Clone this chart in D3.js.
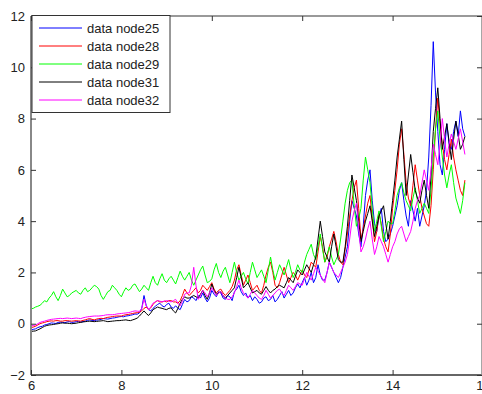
<!DOCTYPE html>
<html><head><meta charset="utf-8">
<script src="https://cdn.jsdelivr.net/npm/d3@7/dist/d3.min.js"></script>
<style>html,body{margin:0;padding:0;background:#fff;overflow:hidden}svg{display:block}</style>
</head><body><svg id="c" width="482" height="394"></svg>
<script>
const xStart = 6.0, xStep = 0.05;
const seriesNames = ["data node25","data node28","data node29","data node31","data node32"];
const xTicks = [6,8,10,12,14,16];
const yTicks = [-2,0,2,4,6,8,10,12];

const node25 = [
-0.25,-0.22,-0.2,-0.15,-0.12,-0.1,-0.05,-0.03,0.0,0.03,0.02,0.01,0.05,0.06,0.05,0.04,0.07,0.08,0.05,0.06,
0.08,0.09,0.07,0.08,0.1,0.13,0.15,0.13,0.12,0.14,0.15,0.17,0.2,0.19,0.18,0.2,0.22,0.23,0.25,0.27,
0.28,0.27,0.3,0.31,0.33,0.35,0.38,0.37,0.42,0.6,1.1,0.7,0.55,0.5,0.6,0.68,0.75,0.8,0.7,0.65,
0.75,0.8,0.65,0.6,0.7,0.6,0.55,0.75,0.95,0.85,0.9,1.05,1.0,0.9,1.1,1.0,1.2,1.0,0.85,1.0,
1.3,1.15,1.05,1.25,1.2,1.0,0.95,1.1,1.05,0.9,1.25,1.35,1.5,1.25,1.1,1.2,1.0,1.1,0.9,1.05,
0.95,0.8,0.85,1.0,1.05,0.9,0.95,1.1,0.85,0.95,1.1,1.25,1.0,1.15,1.3,1.1,1.2,1.4,1.55,1.4,
1.6,1.8,1.5,1.7,2.0,1.6,1.8,2.3,1.9,1.7,1.7,2.0,2.4,2.2,2.0,1.8,1.6,1.8,2.2,2.6,
3.0,4.0,4.8,4.5,4.2,3.5,3.0,3.8,5.0,5.6,6.0,4.8,3.9,3.6,4.2,4.5,3.6,3.2,3.3,3.5,
3.8,4.2,4.6,5.2,5.5,4.8,4.2,3.8,4.8,4.4,4.0,4.5,3.8,4.2,4.6,5.2,6.5,8.5,11.0,9.0,
7.5,6.2,5.8,6.8,7.8,7.0,6.8,7.5,7.9,7.3,8.3,7.6,7.3];
const node28 = [
-0.15,-0.13,-0.1,-0.05,0.0,0.03,0.05,0.08,0.1,0.11,0.1,0.12,0.12,0.1,0.1,0.12,0.12,0.11,0.1,0.11,
0.12,0.11,0.1,0.13,0.15,0.18,0.2,0.17,0.15,0.18,0.2,0.21,0.2,0.23,0.25,0.26,0.28,0.29,0.3,0.3,
0.3,0.33,0.35,0.36,0.38,0.4,0.42,0.43,0.45,0.5,0.6,0.65,0.55,0.62,0.75,0.85,0.9,0.85,0.85,0.88,
0.85,0.9,0.9,0.85,0.85,0.8,0.9,1.1,1.35,1.2,1.1,1.2,1.3,1.4,1.2,1.3,1.5,1.4,1.3,1.45,
1.6,1.35,1.2,1.3,1.35,1.2,1.1,1.2,1.3,1.45,1.7,2.1,2.3,1.9,1.5,1.7,1.9,1.6,1.3,1.4,
1.5,1.3,1.2,1.5,1.9,2.2,2.4,2.0,1.5,1.4,1.6,1.9,2.2,1.9,1.6,1.8,2.0,1.9,1.7,1.9,
2.1,1.9,1.8,2.1,2.4,2.3,2.2,2.8,3.4,3.0,2.4,2.6,3.0,3.3,3.6,3.2,2.7,2.4,2.3,2.9,
3.5,4.2,4.8,5.3,5.6,4.5,3.3,3.7,4.2,4.7,5.0,4.1,3.2,3.6,4.3,3.9,3.3,3.0,2.8,3.5,
4.5,5.2,6.0,7.0,7.6,6.6,5.5,4.9,4.6,5.4,6.2,5.6,5.0,4.5,4.2,3.9,3.8,4.6,6.0,7.6,
8.8,7.8,7.0,6.4,6.0,6.6,7.2,6.5,6.0,5.6,5.2,5.0,5.6];
const node29 = [
0.58,0.6,0.65,0.68,0.72,0.8,0.9,0.85,1.0,1.1,1.25,1.05,0.9,1.1,1.35,1.2,1.05,1.1,1.2,1.25,
1.3,1.2,1.15,1.3,1.4,1.25,1.3,1.4,1.5,1.45,1.35,1.1,0.95,1.1,1.25,1.3,1.5,1.4,1.3,1.15,
1.05,1.25,1.4,1.3,1.35,1.5,1.55,1.4,1.25,1.35,1.5,1.4,1.3,1.6,1.85,1.6,1.5,1.75,1.95,1.7,
1.6,1.75,1.85,1.7,1.55,1.8,2.05,1.85,1.7,1.85,2.0,1.7,1.5,1.7,1.9,2.1,2.25,1.9,1.6,1.65,
1.75,2.1,2.35,2.0,1.8,2.05,2.2,1.9,1.6,2.0,2.4,2.0,1.7,1.85,2.0,1.75,1.55,2.0,2.4,2.1,
1.8,1.95,2.1,1.85,1.6,2.1,2.6,2.1,1.7,2.0,2.3,2.1,1.9,2.2,2.5,2.1,1.8,2.0,2.3,2.1,
2.0,2.4,2.7,2.9,3.1,2.7,2.5,3.0,3.5,2.9,2.4,2.7,3.0,2.6,2.3,2.5,2.7,3.3,4.0,4.7,
5.2,5.5,5.6,4.6,3.8,4.1,4.5,5.6,6.5,6.0,5.5,4.5,3.6,4.0,4.4,3.8,3.2,3.6,4.0,3.9,
3.9,4.4,5.0,5.3,5.5,5.1,4.8,4.6,4.4,4.9,5.3,4.8,4.3,4.5,4.7,4.5,4.3,5.2,6.5,7.6,
8.3,7.2,6.5,5.8,5.3,5.8,6.2,5.5,4.9,4.6,4.3,4.8,5.5];
const node31 = [
-0.3,-0.29,-0.28,-0.24,-0.2,-0.15,-0.1,-0.07,-0.05,-0.04,-0.03,-0.01,0.0,0.02,0.03,0.02,0.02,0.01,0.0,0.01,
0.02,0.04,0.05,0.07,0.08,0.09,0.1,0.09,0.08,0.09,0.1,0.11,0.12,0.1,0.08,0.09,0.1,0.11,0.12,0.12,
0.13,0.14,0.15,0.13,0.12,0.15,0.18,0.22,0.3,0.4,0.5,0.4,0.32,0.42,0.55,0.6,0.65,0.62,0.6,0.57,
0.55,0.6,0.62,0.5,0.42,0.6,0.8,0.95,1.05,1.0,1.0,1.05,1.1,1.05,1.0,1.15,1.3,1.1,0.95,1.2,
1.55,1.3,1.15,1.2,1.25,1.1,1.0,1.1,1.2,1.3,1.4,1.8,2.2,1.8,1.4,1.5,1.6,1.4,1.2,1.25,
1.3,1.2,1.15,1.3,1.45,1.3,1.2,1.3,1.35,1.45,1.5,1.45,1.4,1.6,1.8,1.7,1.6,1.85,2.1,2.0,
1.9,2.1,2.3,2.15,2.0,2.3,2.6,3.3,4.0,3.4,2.8,2.6,2.4,3.0,3.5,3.0,2.5,2.4,2.4,3.0,
3.8,4.8,5.8,5.3,4.8,4.0,3.2,3.6,4.0,4.3,4.6,4.0,3.4,3.8,4.2,4.4,4.6,3.9,3.3,4.0,
4.8,5.6,6.5,7.2,7.9,6.4,5.0,5.8,6.6,5.9,5.2,4.9,4.7,5.2,5.6,5.0,4.5,5.8,7.5,8.4,
9.2,8.0,6.8,7.3,7.8,7.1,6.4,7.2,7.9,7.4,6.8,7.0,7.3];
const node32 = [
-0.08,-0.07,-0.05,0.0,0.05,0.08,0.1,0.13,0.15,0.17,0.18,0.19,0.2,0.21,0.2,0.21,0.22,0.21,0.2,0.21,
0.22,0.21,0.2,0.23,0.25,0.27,0.28,0.29,0.3,0.3,0.3,0.31,0.32,0.34,0.35,0.35,0.35,0.36,0.38,0.39,
0.4,0.41,0.42,0.43,0.45,0.48,0.5,0.49,0.48,0.6,0.95,0.7,0.55,0.65,0.8,0.85,0.9,0.88,0.85,0.88,
0.9,0.88,0.85,0.9,0.95,0.8,0.7,0.9,1.15,1.2,1.2,1.5,2.2,1.5,0.95,1.1,1.3,1.2,1.05,1.2,
1.4,1.25,1.1,1.2,1.25,1.1,1.0,0.95,0.95,1.05,1.2,1.45,1.7,1.4,1.2,1.1,1.0,1.15,1.3,1.2,
1.1,1.0,0.95,1.1,1.3,1.15,1.0,1.1,1.2,1.3,1.35,1.2,1.1,1.3,1.5,1.4,1.3,1.45,1.6,1.55,
1.5,1.75,2.0,1.85,1.7,1.95,2.2,2.05,1.9,1.75,1.6,2.0,2.4,2.2,2.0,1.9,1.8,2.0,2.2,2.4,
2.7,3.3,4.0,4.4,4.7,3.7,2.8,3.0,3.3,3.7,4.0,3.3,2.7,3.0,3.4,3.2,3.0,2.7,2.4,2.7,
3.0,3.2,3.5,3.7,3.8,3.5,3.2,3.4,3.6,4.0,4.5,4.8,5.0,5.5,6.0,5.6,5.2,6.0,7.0,6.6,
6.2,7.0,8.0,7.2,6.5,7.0,7.4,7.1,6.8,7.2,7.6,7.1,6.6];

const seriesValues = [node25,node28,node29,node31,node32];
const colors = ["#0000ff","#ff0000","#00ff00","#000000","#ff00ff"];

const L = 31, R = 483, T = 16, B = 375;
const svg = d3.select("#c");
const x = d3.scaleLinear().domain([6,16]).range([L,R]);
const y = d3.scaleLinear().domain([-2,12]).range([B,T]);

svg.append("defs").append("clipPath").attr("id","clip")
  .append("rect").attr("x",L).attr("y",T).attr("width",R-L).attr("height",B-T);

const font = "'Liberation Sans', Arial, sans-serif";

const line = d3.line().x((d,i)=>x(xStart + i*xStep)).y(d=>y(d));
const g = svg.append("g").attr("clip-path","url(#clip)");
seriesValues.forEach((vals,k)=>{
  g.append("path").datum(vals).attr("d",line)
    .attr("fill","none").attr("stroke",colors[k]).attr("stroke-width",1);
});

// axes box
svg.append("line").attr("x1",L).attr("x2",R).attr("y1",T).attr("y2",T).attr("stroke","#777").attr("stroke-width",1.5);
svg.append("line").attr("x1",L).attr("x2",R).attr("y1",B).attr("y2",B).attr("stroke","#333").attr("stroke-width",1.5);
svg.append("line").attr("x1",L).attr("x2",L).attr("y1",T).attr("y2",B).attr("stroke","#888").attr("stroke-width",2);
svg.append("line").attr("x1",R-1).attr("x2",R-1).attr("y1",T).attr("y2",B).attr("stroke","#888").attr("stroke-width",1.5);

const xAxis = d3.axisBottom(x).tickValues(xTicks).tickSize(-5).tickPadding(6).tickFormat(d3.format("d"));
const gx = svg.append("g").attr("transform",`translate(0,${B})`).call(xAxis);
gx.select(".domain").remove();
gx.selectAll(".tick line").attr("stroke","#333");
gx.selectAll(".tick text").attr("font-family",font).attr("font-size",13).attr("fill","#222");
const gxt = svg.append("g").attr("transform",`translate(0,${T})`).call(d3.axisTop(x).tickValues(xTicks).tickSize(-5).tickFormat(""));
gxt.select(".domain").remove();
gxt.selectAll(".tick line").attr("stroke","#333");

const yAxis = d3.axisLeft(y).tickValues(yTicks).tickSize(-5).tickPadding(6).tickFormat(d3.format("d"));
const gy = svg.append("g").attr("transform",`translate(${L},0)`).call(yAxis);
gy.select(".domain").remove();
gy.selectAll(".tick line").attr("stroke","#333");
gy.selectAll(".tick text").attr("font-family",font).attr("font-size",13).attr("fill","#222");
const gyr = svg.append("g").attr("transform",`translate(${R-1},0)`).call(d3.axisRight(y).tickValues(yTicks).tickSize(-5).tickFormat(""));
gyr.select(".domain").remove();
gyr.selectAll(".tick line").attr("stroke","#333");

// legend
const lg = svg.append("g");
lg.append("rect").attr("x",32).attr("y",15.5).attr("width",138).attr("height",97)
  .attr("fill","#fff").attr("stroke","#333").attr("stroke-width",1);
seriesNames.forEach((n,k)=>{
  const cy = 28 + k*18;
  lg.append("line").attr("x1",39).attr("x2",82).attr("y1",cy).attr("y2",cy)
    .attr("stroke",colors[k]).attr("stroke-width",1);
  lg.append("text").attr("x",87).attr("y",cy+4.5).text(n)
    .attr("font-family",font).attr("font-size",13).attr("fill","#222");
});
</script>
</body></html>
